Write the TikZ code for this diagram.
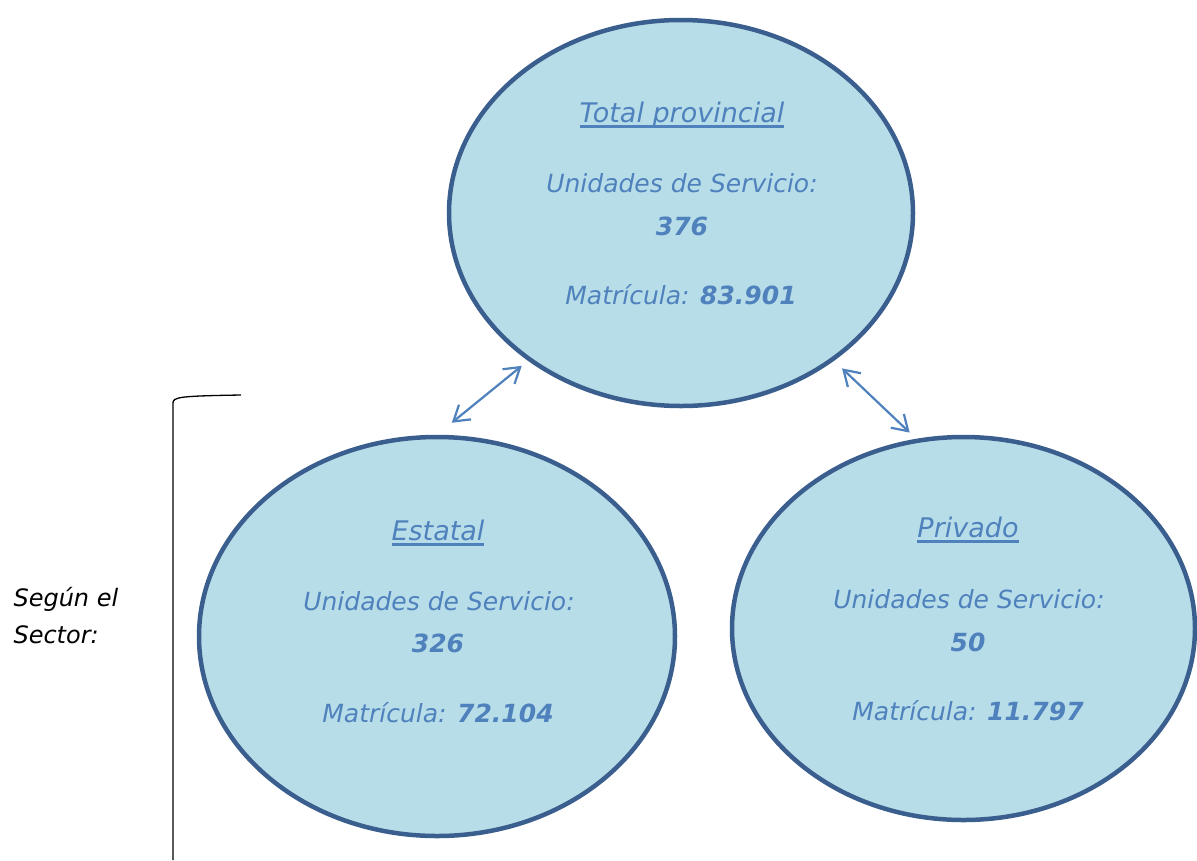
\documentclass[tikz,border=0pt]{standalone}
\usepackage{fontspec}
\setmainfont{DejaVu Sans}
\usetikzlibrary{shapes.geometric,arrows.meta}
\definecolor{bubblefill}{HTML}{B7DDE8}
\definecolor{bubbleline}{HTML}{3A5F8E}
\definecolor{bluetext}{HTML}{4F81BD}
\newcommand\thickul[1]{\setbox0\hbox{#1}\rlap{\rule[-6pt]{\wd0}{2.6pt}}\box0}
\begin{document}
\begin{tikzpicture}[x=1pt,y=-1pt,
  bubble/.style={ellipse,draw=bubbleline,fill=bubblefill,line width=4.5pt,inner sep=0pt},
  txt/.style={anchor=base,text=bluetext,font=\fontsize{25}{29}\selectfont\itshape},
  head/.style={anchor=base,text=bluetext,font=\fontsize{27}{32}\selectfont\itshape},
  link/.style={{Straight Barb[length=15pt,width=19pt]}-{Straight Barb[length=15pt,width=19pt]},draw=bluetext,line width=2.2pt}]
\useasboundingbox (0,0) rectangle (1197,860);
% the three groups
\node[bubble,minimum width=464pt,minimum height=386pt] (tot) at (681,213) {};
\node[bubble,minimum width=476pt,minimum height=399pt] (est) at (437,636.5) {};
\node[bubble,minimum width=463pt,minimum height=383pt] (prv) at (963.5,628.5) {};
% total
\node[head] (tot-name) at (682,122) {\thickul{Total provincial}};
\node[txt] (tot-us) at (682,192) {Unidades de Servicio:};
\node[txt] (tot-usn) at (682,235) {\textbf{376}};
\node[txt] (tot-mat) at (681,304) {Matrícula: \textbf{83.901}};
% estatal
\node[head] (est-name) at (438,540) {\thickul{Estatal}};
\node[txt] (est-us) at (439,610) {Unidades de Servicio:};
\node[txt] (est-usn) at (438,652) {\textbf{326}};
\node[txt] (est-mat) at (438,722) {Matrícula: \textbf{72.104}};
% privado
\node[head] (prv-name) at (968,537) {\thickul{Privado}};
\node[txt] (prv-us) at (969,608) {Unidades de Servicio:};
\node[txt] (prv-usn) at (968,651) {\textbf{50}};
\node[txt] (prv-mat) at (968,720) {Matrícula: \textbf{11.797}};
% links
\draw[link,shorten <=19pt,shorten >=8pt] (est.north) -- (tot.224);
\draw[link,shorten <=11pt,shorten >=9pt] (tot.316.7) -- (prv.104.3);
% bracket
\node[anchor=base west,font=\fontsize{24}{28}\selectfont\itshape] (sector1) at (10,606) {Según el};
\node[anchor=base west,font=\fontsize{24}{28}\selectfont\itshape] (sector2) at (10,643) {Sector:};
\draw[line width=1.3pt] (241,395) .. controls (180,396) and (173,397) .. (173,403) -- (173,860);
\end{tikzpicture}
\end{document}
